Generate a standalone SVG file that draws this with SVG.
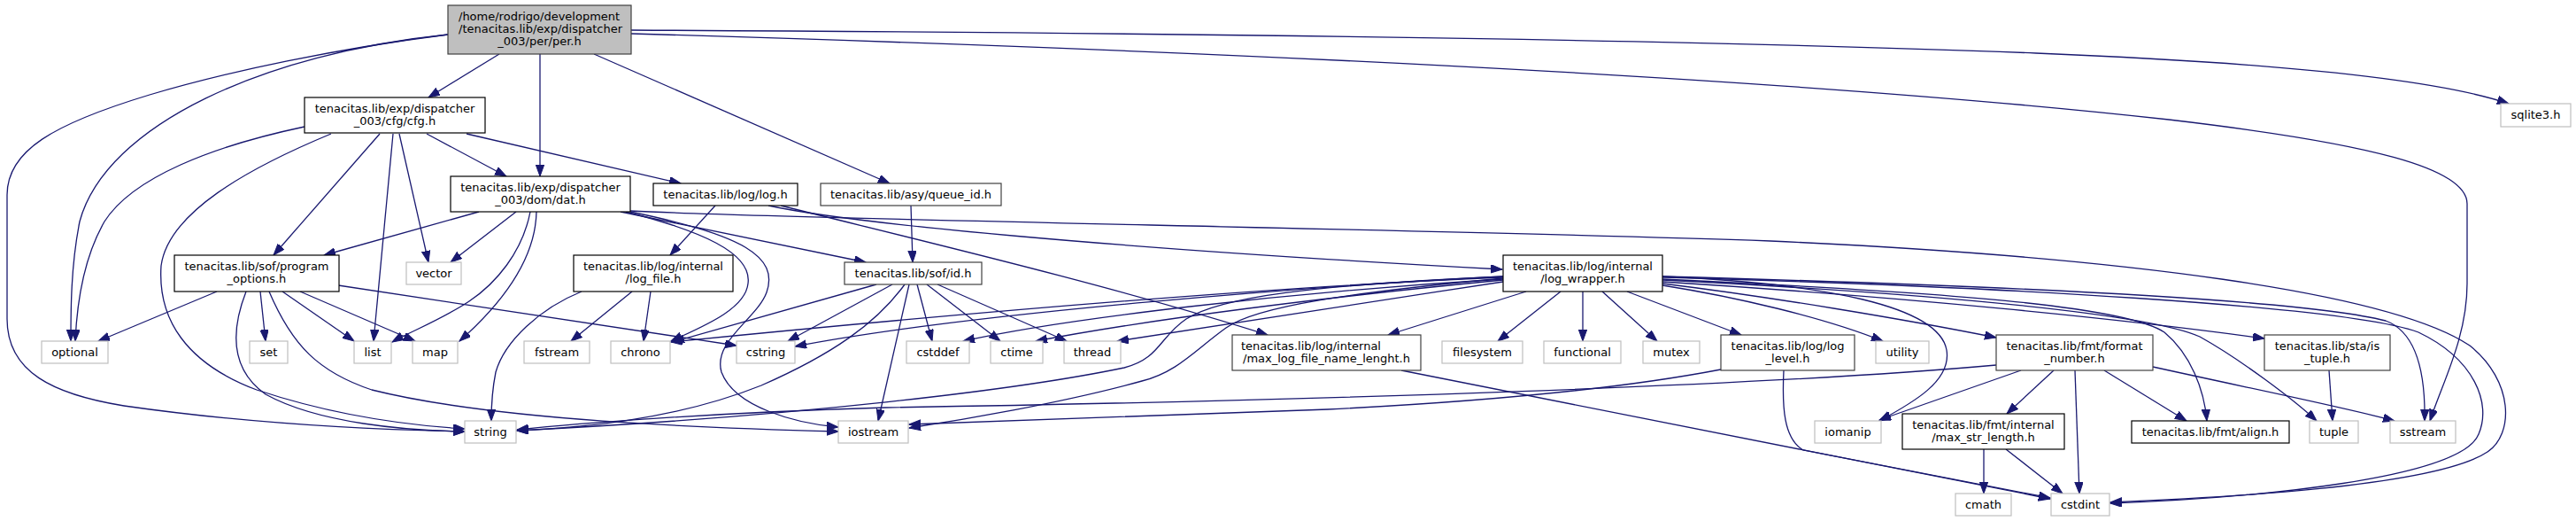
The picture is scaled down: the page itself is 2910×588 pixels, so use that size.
<svg xmlns="http://www.w3.org/2000/svg" width="2910" height="588" viewBox="0 0 2910 588">
<style>
.n rect{fill:#fff;stroke:#404040;stroke-width:1.2}
.b rect{stroke:#000}
.x rect{stroke:#bfbfbf}
.r rect{fill:#bfbfbf}
text{font-family:"DejaVu Sans","Liberation Sans",sans-serif;font-size:13px;fill:#000;text-anchor:middle}
text.s{text-anchor:start}
#edges path{fill:none;stroke:#191970;stroke-width:1.3;marker-end:url(#a)}
</style>
<defs>
<marker id="a" markerUnits="userSpaceOnUse" markerWidth="14" markerHeight="10" refX="13" refY="4.7" orient="auto"><path d="M0,0L13,4.7L0,9.4z" fill="#191970" stroke="#191970" stroke-width="1"/></marker>
</defs>
<rect width="2910" height="588" fill="#fff"/>
<g id="edges">
<path d="M564,61L484,110"/>
<path d="M610,61L610,199"/>
<path d="M671,61L1005,207"/>
<path d="M713,34C1300,37 1900,44 2300,60C2600,72 2760,92 2834,117"/>
<path d="M713,38C1300,55 2000,85 2450,135C2680,162 2787,190 2787,230L2787,320C2787,380 2760,430 2745,475"/>
<path d="M506,39C300,60 120,140 90,250C80,300 80,350 80,385"/>
<path d="M506,39C380,55 260,80 169,107C60,140 8,170 8,220L8,360C8,420 60,445 140,458C280,478 420,485 525,487"/>
<path d="M344,143C240,165 150,200 118,250C95,290 87,340 85,385"/>
<path d="M374,151C280,190 190,240 182,300C178,360 210,410 290,440C380,470 460,480 525,484"/>
<path d="M429,151L309,288"/>
<path d="M444,151L422,385"/>
<path d="M451,151L484,296"/>
<path d="M482,151L572,199"/>
<path d="M527,151L769,207"/>
<path d="M541,239L366,288"/>
<path d="M583,239L509,296"/>
<path d="M599,239C590,285 560,320 530,340C500,360 462,375 443,386"/>
<path d="M606,239C605,290 570,340 519,385"/>
<path d="M701,239L978,296"/>
<path d="M707,239C790,260 850,285 845,320C842,350 790,370 758,385"/>
<path d="M712,239C840,265 880,290 866,330C855,360 805,385 815,420C830,460 900,478 947,482"/>
<path d="M712,238C900,248 1600,258 2000,272C2400,290 2700,330 2790,390C2840,430 2840,490 2810,510C2750,550 2500,562 2384,567"/>
<path d="M808,232L757,288"/>
<path d="M868,232C960,252 1250,280 1697,304"/>
<path d="M882,232C1000,262 1250,320 1432,378"/>
<path d="M1029,232L1031,296"/>
<path d="M245,329L111,385"/>
<path d="M278,329C262,370 258,415 300,445C360,478 460,486 525,487"/>
<path d="M294,329L300,385"/>
<path d="M319,329L400,385"/>
<path d="M339,329L469,385"/>
<path d="M382,322L832,390"/>
<path d="M304,329C330,390 360,420 420,440C560,475 800,483 947,487"/>
<path d="M657,329C610,348 570,385 560,420C556,440 555,458 555,475"/>
<path d="M714,329L645,385"/>
<path d="M735,329L727,385"/>
<path d="M990,321L760,386"/>
<path d="M1008,321L890,385"/>
<path d="M1022,321C990,365 940,400 860,435C760,475 650,483 584,486"/>
<path d="M1027,321L992,475"/>
<path d="M1036,321L1053,385"/>
<path d="M1047,321L1130,385"/>
<path d="M1059,321L1205,385"/>
<path d="M1724,329L1568,378"/>
<path d="M1763,329L1692,385"/>
<path d="M1788,329L1788,385"/>
<path d="M1810,329L1872,385"/>
<path d="M1838,329L1967,378"/>
<path d="M1698,312C1500,322 1100,352 898,391"/>
<path d="M1698,313C1400,325 1000,362 758,386"/>
<path d="M1698,315C1450,330 1200,360 1088,385"/>
<path d="M1698,316C1500,335 1300,360 1170,385"/>
<path d="M1698,318C1550,340 1400,365 1262,385"/>
<path d="M1698,312C1480,322 1380,335 1340,360C1310,380 1310,405 1270,415C1150,440 900,470 584,486"/>
<path d="M1698,314C1530,330 1420,345 1385,370C1350,395 1330,420 1290,430C1200,455 1080,475 1027,483"/>
<path d="M1878,322C1960,335 2060,358 2127,385"/>
<path d="M1878,320C2000,335 2150,360 2255,381"/>
<path d="M1878,312C2060,320 2190,345 2199,395C2205,430 2160,455 2123,475"/>
<path d="M1878,315C2200,330 2400,345 2445,375C2475,400 2490,440 2493,475"/>
<path d="M1878,316C2200,332 2430,355 2485,380C2530,405 2590,450 2617,475"/>
<path d="M1878,318C2150,335 2400,360 2558,382"/>
<path d="M1878,312C2250,322 2600,338 2695,362C2730,375 2740,420 2739,475"/>
<path d="M1878,313C2250,323 2650,345 2732,375C2795,405 2815,455 2800,490C2780,540 2550,562 2384,568"/>
<path d="M1583,418L2316,563"/>
<path d="M1944,417C1850,435 1700,452 1500,462C1300,470 1100,476 1027,479"/>
<path d="M2015,418C2013,460 2015,495 2037,508L2316,562"/>
<path d="M2255,412C2000,435 1500,452 1000,460C800,466 650,478 584,485"/>
<path d="M2283,418L2123,474"/>
<path d="M2320,418L2267,467"/>
<path d="M2344,418L2349,557"/>
<path d="M2377,418L2470,475"/>
<path d="M2432,414C2550,440 2650,460 2705,475"/>
<path d="M2631,418L2635,475"/>
<path d="M2241,507L2241,557"/>
<path d="M2266,507L2330,557"/>
</g>
<g id="node-per" class="n r"><rect x="506" y="6" width="207" height="55"/><text class="s" x="518" y="22.5">/home/rodrigo/development</text><text class="s" x="518" y="36.5">/tenacitas.lib/exp/dispatcher</text><text x="609.5" y="50.5">_003/per/per.h</text></g>
<g id="node-cfg" class="n b"><rect x="344" y="110" width="204" height="40"/><text x="446" y="126.5">tenacitas.lib/exp/dispatcher</text><text x="446" y="140.5">_003/cfg/cfg.h</text></g>
<g id="node-dat" class="n b"><rect x="509" y="199" width="203" height="40"/><text x="610.5" y="215.5">tenacitas.lib/exp/dispatcher</text><text x="610.5" y="229.5">_003/dom/dat.h</text></g>
<g id="node-log" class="n b"><rect x="738" y="207" width="163" height="25"/><text x="819.5" y="224">tenacitas.lib/log/log.h</text></g>
<g id="node-queue_id" class="n"><rect x="927" y="207" width="204" height="25"/><text x="1029" y="224">tenacitas.lib/asy/queue_id.h</text></g>
<g id="node-sqlite3" class="n x"><rect x="2825" y="117" width="79" height="26"/><text x="2864.5" y="134">sqlite3.h</text></g>
<g id="node-program_options" class="n b"><rect x="197" y="288" width="186" height="41"/><text x="290" y="304.5">tenacitas.lib/sof/program</text><text x="290" y="318.5">_options.h</text></g>
<g id="node-vector" class="n x"><rect x="459" y="296" width="62" height="25"/><text x="490" y="313">vector</text></g>
<g id="node-log_file" class="n b"><rect x="648" y="288" width="180" height="41"/><text x="738" y="304.5">tenacitas.lib/log/internal</text><text x="738" y="318.5">/log_file.h</text></g>
<g id="node-id" class="n"><rect x="954" y="296" width="155" height="25"/><text x="1031.5" y="313">tenacitas.lib/sof/id.h</text></g>
<g id="node-log_wrapper" class="n b"><rect x="1698" y="288" width="180" height="41"/><text x="1788" y="304.5">tenacitas.lib/log/internal</text><text x="1788" y="318.5">/log_wrapper.h</text></g>
<g id="node-optional" class="n x"><rect x="47" y="385" width="75" height="25"/><text x="84.5" y="402">optional</text></g>
<g id="node-set" class="n x"><rect x="282" y="385" width="43" height="25"/><text x="303.5" y="402">set</text></g>
<g id="node-list" class="n x"><rect x="400" y="385" width="42" height="25"/><text x="421" y="402">list</text></g>
<g id="node-map" class="n x"><rect x="466" y="385" width="51" height="25"/><text x="491.5" y="402">map</text></g>
<g id="node-fstream" class="n x"><rect x="592" y="385" width="74" height="25"/><text x="629" y="402">fstream</text></g>
<g id="node-chrono" class="n x"><rect x="690" y="385" width="67" height="25"/><text x="723.5" y="402">chrono</text></g>
<g id="node-cstring" class="n x"><rect x="832" y="385" width="66" height="25"/><text x="865" y="402">cstring</text></g>
<g id="node-cstddef" class="n x"><rect x="1024" y="385" width="71" height="25"/><text x="1059.5" y="402">cstddef</text></g>
<g id="node-ctime" class="n x"><rect x="1119" y="385" width="59" height="25"/><text x="1148.5" y="402">ctime</text></g>
<g id="node-thread" class="n x"><rect x="1202" y="385" width="64" height="25"/><text x="1234" y="402">thread</text></g>
<g id="node-max_log" class="n"><rect x="1392" y="378" width="213" height="40"/><text class="s" x="1402" y="394.5">tenacitas.lib/log/internal</text><text x="1498.5" y="408.5">/max_log_file_name_lenght.h</text></g>
<g id="node-filesystem" class="n x"><rect x="1629" y="385" width="91" height="25"/><text x="1674.5" y="402">filesystem</text></g>
<g id="node-functional" class="n x"><rect x="1744" y="385" width="87" height="25"/><text x="1787.5" y="402">functional</text></g>
<g id="node-mutex" class="n x"><rect x="1856" y="385" width="64" height="25"/><text x="1888" y="402">mutex</text></g>
<g id="node-log_level" class="n"><rect x="1944" y="378" width="151" height="40"/><text x="2019.5" y="394.5">tenacitas.lib/log/log</text><text x="2019.5" y="408.5">_level.h</text></g>
<g id="node-utility" class="n x"><rect x="2119" y="385" width="60" height="25"/><text x="2149" y="402">utility</text></g>
<g id="node-format_number" class="n"><rect x="2255" y="378" width="177" height="40"/><text x="2343.5" y="394.5">tenacitas.lib/fmt/format</text><text x="2343.5" y="408.5">_number.h</text></g>
<g id="node-is_tuple" class="n"><rect x="2558" y="378" width="142" height="40"/><text x="2629" y="394.5">tenacitas.lib/sta/is</text><text x="2629" y="408.5">_tuple.h</text></g>
<g id="node-string" class="n x"><rect x="525" y="475" width="58" height="25"/><text x="554" y="492">string</text></g>
<g id="node-iostream" class="n x"><rect x="947" y="475" width="79" height="25"/><text x="986.5" y="492">iostream</text></g>
<g id="node-iomanip" class="n x"><rect x="2050" y="475" width="75" height="25"/><text x="2087.5" y="492">iomanip</text></g>
<g id="node-max_str_length" class="n b"><rect x="2149" y="467" width="183" height="40"/><text x="2240.5" y="483.5">tenacitas.lib/fmt/internal</text><text x="2240.5" y="497.5">/max_str_length.h</text></g>
<g id="node-align" class="n b"><rect x="2408" y="475" width="178" height="25"/><text x="2497" y="492">tenacitas.lib/fmt/align.h</text></g>
<g id="node-tuple" class="n x"><rect x="2609" y="475" width="55" height="25"/><text x="2636.5" y="492">tuple</text></g>
<g id="node-sstream" class="n x"><rect x="2700" y="475" width="74" height="25"/><text x="2737" y="492">sstream</text></g>
<g id="node-cmath" class="n x"><rect x="2209" y="557" width="63" height="25"/><text x="2240.5" y="574">cmath</text></g>
<g id="node-cstdint" class="n x"><rect x="2317" y="557" width="66" height="25"/><text x="2350" y="574">cstdint</text></g>
</svg>
